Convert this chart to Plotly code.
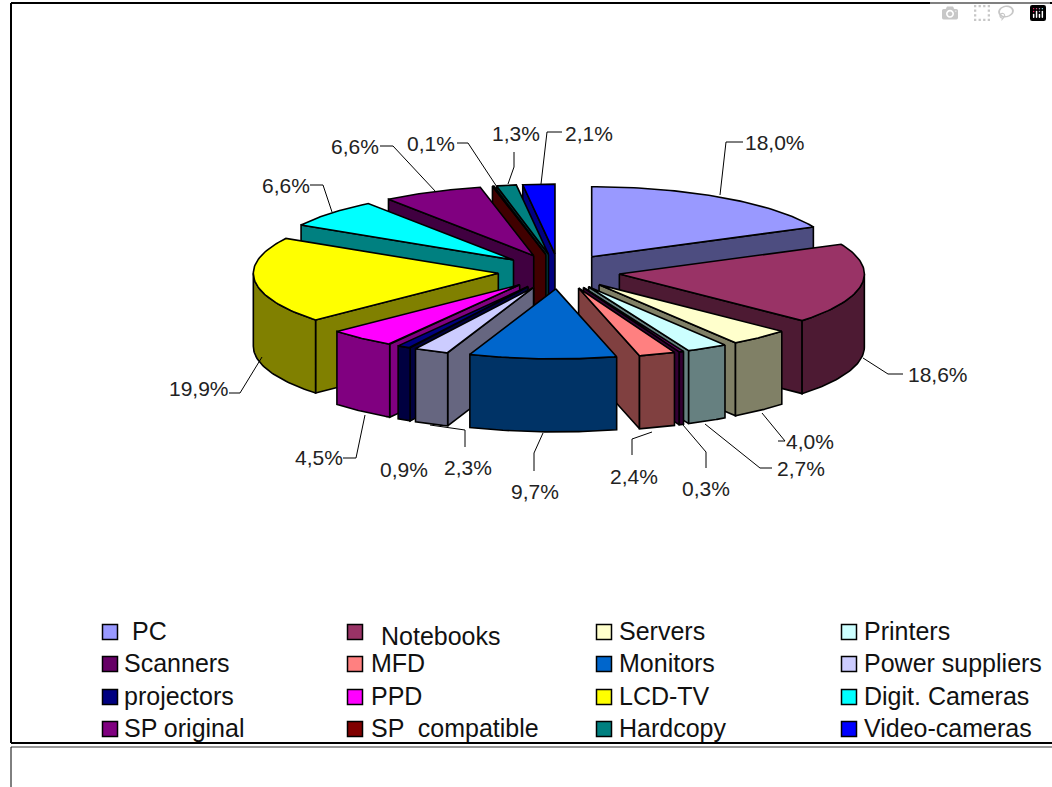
import numpy as np
import plotly.graph_objects as go

names = ['PC', 'Notebooks', 'Servers', 'Printers', 'Scanners', 'MFD', 'Monitors', 'Power suppliers',
         'projectors', 'PPD', 'LCD-TV', 'Digit. Cameras', 'SP original', 'SP  compatible', 'Hardcopy', 'Video-cameras']
shares = [18.0, 18.6, 4.0, 2.7, 0.3, 2.4, 9.7, 2.3, 0.9, 4.5, 19.9, 6.6, 6.6, 0.1, 1.3, 2.1]
share_labels = ['18,0%', '18,6%', '4,0%', '2,7%', '0,3%', '2,4%', '9,7%', '2,3%',
                '0,9%', '4,5%', '19,9%', '6,6%', '6,6%', '0,1%', '1,3%', '2,1%']

top_colors = ['#9999FF', '#993366', '#FFFFCC', '#CCFFFF', '#660066', '#FF8080', '#0066CC', '#CCCCFF',
              '#000080', '#FF00FF', '#FFFF00', '#00FFFF', '#800080', '#800000', '#008080', '#0000FF']
side_colors = ['#4D4D80', '#4D1A33', '#808066', '#668080', '#330033', '#804040', '#003366', '#666680',
               '#000040', '#800080', '#808000', '#008080', '#400040', '#400000', '#004040', '#000080']

# pie geometry, in page pixels
cx, cy = 559, 271.5
rx, ry = 245, 70
explode = 61
depth = 73

# label centres and leader lines, page pixels
label_pos = [(775, 142), (938, 374), (810, 441), (801, 468), (706, 488), (634, 476), (535, 491), (468, 467),
             (404, 469), (319, 457), (199, 388), (286, 185), (355, 146), (431, 143), (516, 133), (589, 133)]
leaders = [[(743, 142), (726, 142), (720, 195)],
           [(903, 374), (888, 374), (863, 358)],
           [(778, 441), (785, 441), (762, 413)],
           [(772, 468), (760, 468), (705, 424)],
           [(706, 468), (706, 452), (683, 425)],
           [(632, 455), (632, 439), (652, 432)],
           [(534, 471), (534, 453), (543, 433)],
           [(465, 447), (465, 430), (430, 425)],
           None,
           [(343, 458), (356, 458), (365, 415)],
           [(229, 393), (240, 393), (262, 357)],
           [(310, 185), (323, 185), (332, 212)],
           [(380, 146), (393, 146), (436, 192)],
           [(457, 143), (468, 143), (497, 187)],
           [(514, 152), (514, 167), (508, 184)],
           [(562, 132), (547, 132), (541, 184)]]

# legend grid
col_marker = [110, 355, 604, 849]
col_text = [122, 369, 617, 862]
row_y = [632, 664, 697, 729]

fig = go.Figure()


def add_poly(xs, ys, color):
    fig.add_trace(go.Scatter(x=xs, y=ys, mode='lines', fill='toself', fillcolor=color,
                             line=dict(color='black', width=1.6), hoverinfo='skip'))


def on_rim(ax, ay, t):
    return ax + rx * np.sin(t), ay - ry * np.cos(t)


edges = np.radians(np.cumsum([0] + shares) * 3.6)
mids = (edges[:-1] + edges[1:]) / 2

# paint back to front
for i in np.argsort(-np.cos(mids)):
    a, b = edges[i], edges[i + 1]
    ax = cx + explode * np.sin(mids[i])
    ay = cy - explode * ry / rx * np.cos(mids[i])

    # only the radial wall facing the viewer
    wall = a if np.sin(a) < 0 else (b if np.sin(b) > 0 else None)
    if wall is not None:
        wx, wy = on_rim(ax, ay, wall)
        add_poly([ax, wx, wx, ax, ax], [ay, wy, wy + depth, ay + depth, ay], side_colors[i])

    # outer rim, front half only
    lo, hi = max(a, np.pi / 2), min(b, 3 * np.pi / 2)
    if hi > lo:
        t = np.linspace(lo, hi, 40)
        rim_x, rim_y = on_rim(ax, ay, t)
        add_poly(np.r_[rim_x, rim_x[::-1], rim_x[0]], np.r_[rim_y, rim_y[::-1] + depth, rim_y[0]], side_colors[i])

    t = np.linspace(a, b, 60)
    top_x, top_y = on_rim(ax, ay, t)
    add_poly(np.r_[ax, top_x, ax], np.r_[ay, top_y, ay], top_colors[i])

for path in leaders:
    if path:
        fig.add_trace(go.Scatter(x=[p[0] for p in path], y=[p[1] for p in path], mode='lines',
                                 line=dict(color='black', width=1), hoverinfo='skip'))

for (lx, ly), txt in zip(label_pos, share_labels):
    fig.add_annotation(x=lx, y=ly, text=txt, showarrow=False, font=dict(size=21, color='#222222'))

# legend
for i, name in enumerate(names):
    r, c = i // 4, i % 4
    fig.add_trace(go.Scatter(x=[col_marker[c]], y=[row_y[r]], mode='markers', hoverinfo='skip',
                             marker=dict(symbol='square', size=15, color=top_colors[i],
                                         line=dict(color='black', width=1.5))))
    tx = col_text[c] + (8 if name == 'PC' else 10 if name == 'Notebooks' else 0)
    ty = row_y[r] - 1 + (5 if name == 'Notebooks' else 0)
    fig.add_annotation(x=tx, y=ty, text=name, xanchor='left', showarrow=False,
                       font=dict(size=25, color='#111111'))

# chart frame and the start of the next one below it
frame = dict(type='line', line=dict(color='black', width=2))
fig.add_shape(x0=11, x1=1052, y0=3, y1=3, **frame)
fig.add_shape(x0=11, x1=11, y0=3, y1=743, **frame)
fig.add_shape(x0=11, x1=1052, y0=743, y1=743, **frame)
fig.add_shape(type='line', x0=11, x1=1052, y0=747, y1=747, line=dict(color='#999999', width=2))
fig.add_shape(type='line', x0=11, x1=11, y0=747, y1=787, line=dict(color='black', width=1))

fig.update_xaxes(range=[0, 1052], visible=False, fixedrange=True)
fig.update_yaxes(range=[787, 0], visible=False, fixedrange=True)
fig.update_layout(width=1052, height=787, margin=dict(t=0, l=0, r=0, b=0), showlegend=False,
                  paper_bgcolor='white', plot_bgcolor='white',
                  font=dict(family='Liberation Sans'))

fig.write_html("out.html", post_script="document.body.style.margin='0';document.body.style.overflow='hidden';")
